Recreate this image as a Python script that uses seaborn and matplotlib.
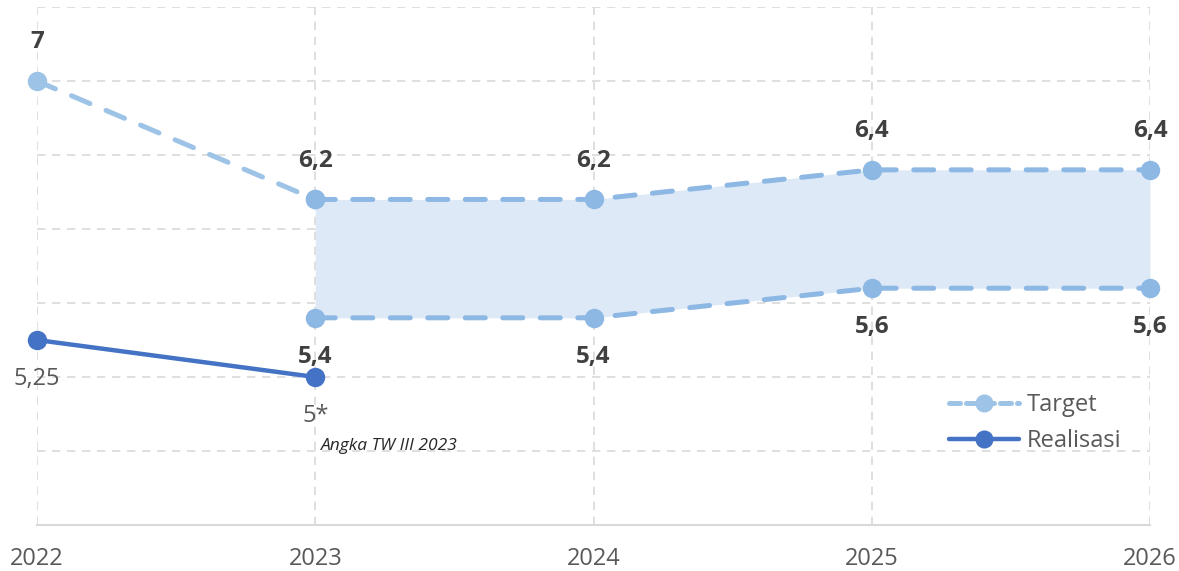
import matplotlib
matplotlib.use('Agg')
import matplotlib.pyplot as plt
import seaborn as sns
import pandas as pd
from matplotlib.lines import Line2D

# data
years = [2022, 2023, 2024, 2025, 2026]
target_upper = [7.0, 6.2, 6.2, 6.4, 6.4]
target_lower = [None, 5.4, 5.4, 5.6, 5.6]
realisasi = [5.25, 5.0, None, None, None]

upper_labels = ['7', '6,2', '6,2', '6,4', '6,4']
lower_labels = ['', '5,4', '5,4', '5,6', '5,6']
real_labels = ['5,25', '5*', '', '', '']
note = 'Angka TW III 2023'

df = pd.DataFrame({'year': years, 'upper': target_upper,
                   'lower': target_lower, 'real': realisasi})

sns.set_theme(style='white')
plt.rcParams['font.family'] = ['Open Sans', 'DejaVu Sans']

c_target = '#9DC3E6'
c_target_dark = '#8DB8E4'
c_real = '#4472C4'
c_fill = '#DDE9F6'
c_grid = '#D9D9D9'

fig = plt.figure(figsize=(11.79, 5.71), dpi=100)
ax = fig.add_axes([0.0314, 0.0806, 0.944, 0.907])

# band between the targets
band = df.dropna(subset=['lower'])
ax.fill_between(band['year'], band['lower'], band['upper'], color=c_fill, lw=0, zorder=1)

dash_kw = dict(linestyle=(0, (4, 3.5)), dash_capstyle='round', lw=3.6,
               marker='o', markersize=14, markeredgewidth=0, zorder=3)
sns.lineplot(data=df.iloc[:2], x='year', y='upper', color=c_target, ax=ax, **dash_kw)
sns.lineplot(data=df.iloc[1:], x='year', y='upper', color=c_target_dark, ax=ax, **dash_kw)
sns.lineplot(data=band, x='year', y='lower', color=c_target_dark, ax=ax, **dash_kw)
sns.lineplot(data=df.dropna(subset=['real']), x='year', y='real', color=c_real, ax=ax,
             lw=3.2, marker='o', markersize=14, markeredgewidth=0, zorder=4)
for ln in ax.lines:
    ln.set_clip_on(False)

# data labels
for x, y, t in zip(years, target_upper, upper_labels):
    ax.annotate(t, (x, y), xytext=(0, 28), textcoords='offset points', ha='center',
                va='center', fontsize=17.5, fontweight='bold', color='#404040')
for x, y, t in zip(years, target_lower, lower_labels):
    if t:
        ax.annotate(t, (x, y), xytext=(0, -28), textcoords='offset points', ha='center',
                    va='center', fontsize=17.5, fontweight='bold', color='#404040')
for x, y, t in zip(years, realisasi, real_labels):
    if t:
        ax.annotate(t, (x, y), xytext=(0, -28), textcoords='offset points', ha='center',
                    va='center', fontsize=17, color='#595959')
ax.annotate(note, (years[1], realisasi[1]), xytext=(4, -50), textcoords='offset points',
            ha='left', va='center', fontsize=12.5, fontstyle='italic', color='#262626')

# axes styling
ax.set_xlim(2022, 2026)
ax.set_ylim(4, 7.5)
ax.set_xticks(years)
ax.set_xticklabels([str(y) for y in years], fontsize=17, color='#595959')
ax.set_yticks([4, 4.5, 5, 5.5, 6, 6.5, 7, 7.5])
ax.set_yticklabels([])
ax.tick_params(axis='x', length=0, pad=16)
ax.tick_params(axis='y', length=0)
ax.grid(True, color=c_grid, linestyle=(0, (5, 4)), lw=1.2)
ax.set_axisbelow(True)
for s in ['left', 'right', 'top']:
    ax.spines[s].set_visible(False)
ax.spines['bottom'].set_color(c_grid)
ax.spines['bottom'].set_linewidth(1.5)
ax.set_xlabel('')
ax.set_ylabel('')

handles = [
    Line2D([], [], color=c_target, lw=3.6, linestyle=(0, (2.2, 1.2)), dash_capstyle='round',
           marker='o', markersize=13, markeredgewidth=0),
    Line2D([], [], color=c_real, lw=3.2, marker='o', markersize=13, markeredgewidth=0),
]
ax.legend(handles, ['Target', 'Realisasi'], loc='upper left', bbox_to_anchor=(0.8, 0.295),
          frameon=False, fontsize=17, handlelength=3.0, handletextpad=0.3,
          labelspacing=0.5, labelcolor='#595959')

fig.savefig('out.png', dpi=100)
